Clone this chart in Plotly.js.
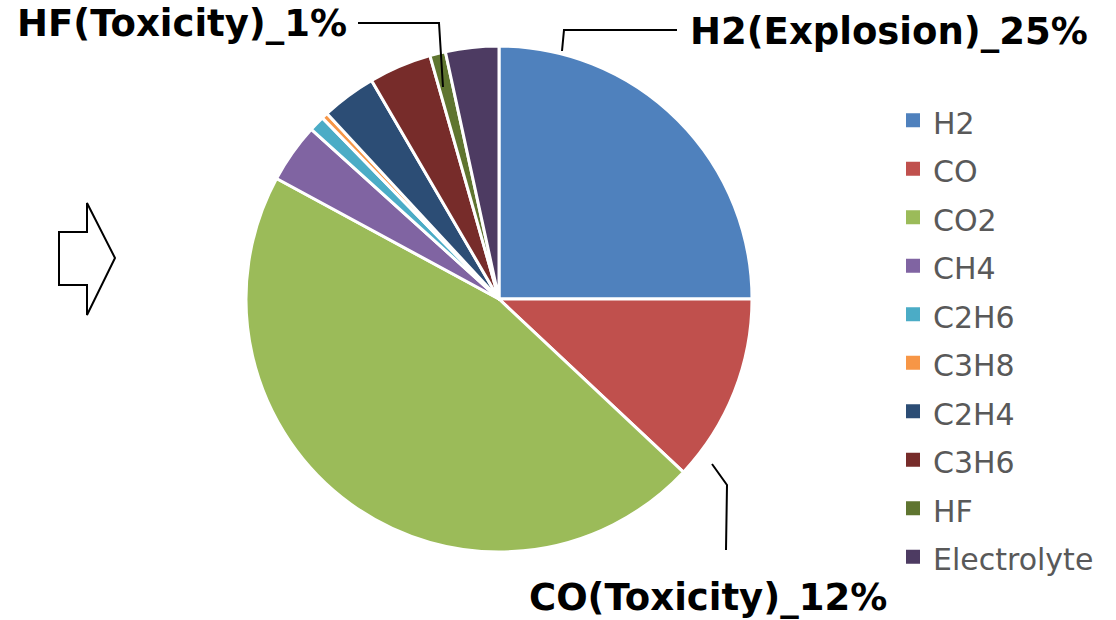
<!DOCTYPE html>
<html>
<head>
<meta charset="utf-8">
<script src="https://cdn.plot.ly/plotly-3.0.1.min.js"></script>
<style>
  html, body { margin: 0; padding: 0; background: #ffffff; }
  #chart { width: 1116px; height: 620px; }
</style>
</head>
<body>
<div id="chart"></div>
<script>
// Gas composition of the vented mixture (percent of total)
const gases   = ['H2', 'CO', 'CO2', 'CH4', 'C2H6', 'C3H8', 'C2H4', 'C3H6', 'HF', 'Electrolyte'];
const shares  = [25, 12, 45.9, 3.8, 1.0, 0.4, 3.5, 4.0, 1, 3.4];
const colors  = ['#4F81BD', '#C0504D', '#9BBB59', '#8064A2', '#4BACC6',
                 '#F79646', '#2C4D75', '#772C2A', '#5F7530', '#4D3B62'];

// Hazard callouts
const calloutGas    = ['H2', 'CO', 'HF'];
const calloutHazard = ['Explosion', 'Toxicity', 'Toxicity'];

const W = 1116, H = 620;
const fx = x => x / W;
const fy = y => 1 - y / H;
const path = pts => pts.map((p, i) => (i ? 'L' : 'M') + fx(p[0]) + ',' + fy(p[1])).join(' ');

function calloutText(gas) {
  const i = calloutGas.indexOf(gas);
  const v = shares[gases.indexOf(gas)];
  return gas + '(' + calloutHazard[i] + ')_' + Math.round(v) + '%';
}

const pie = {
  type: 'pie',
  labels: gases.map(g => '<span style="font-size:30px">' + g + '</span>'),
  values: shares,
  sort: false,
  direction: 'clockwise',
  rotation: 0,
  textinfo: 'none',
  hoverinfo: 'label+percent',
  marker: { colors: colors, line: { color: '#ffffff', width: 3 } },
  domain: { x: [fx(246), fx(752)], y: [fy(552), fy(46)] }
};

const labelFont = { family: 'DejaVu Sans', size: 37, color: '#000000', weight: 'bold' };

const annotations = [
  { text: '<b>' + calloutText('H2') + '</b>', x: fx(688), y: fy(31), xanchor: 'left', yanchor: 'middle' },
  { text: '<b>' + calloutText('HF') + '</b>', x: fx(349), y: fy(23), xanchor: 'right', yanchor: 'middle' },
  { text: '<b>' + calloutText('CO') + '</b>', x: fx(708), y: fy(597), xanchor: 'center', yanchor: 'middle' }
].map(a => Object.assign({ xref: 'paper', yref: 'paper', showarrow: false, font: labelFont }, a));

const leader = { color: '#000000', width: 2 };
const shapes = [
  // leader lines
  { type: 'path', path: path([[562, 51], [564, 30], [677, 30]]) },
  { type: 'path', path: path([[443, 87], [439, 23], [358, 23]]) },
  { type: 'path', path: path([[712, 464], [727, 485], [726, 550]]) },
  // block arrow on the left
  { type: 'path', path: path([[59, 232], [87, 232], [87, 203], [115, 258], [87, 315], [87, 285], [59, 285]]) + ' Z',
    fillcolor: '#ffffff', line: { color: '#000000', width: 2 } }
].map(s => Object.assign({ xref: 'paper', yref: 'paper', line: leader }, s));

const layout = {
  width: W,
  height: H,
  margin: { l: 0, r: 0, t: 0, b: 0, autoexpand: false },
  paper_bgcolor: '#ffffff',
  showlegend: true,
  legend: {
    x: fx(893), y: fy(91), xanchor: 'left', yanchor: 'top',
    font: { family: 'DejaVu Sans', size: 35, color: '#595959' },
    bgcolor: 'rgba(0,0,0,0)', borderwidth: 0
  },
  annotations: annotations,
  shapes: shapes
};

Plotly.newPlot('chart', [pie], layout, { displayModeBar: false, staticPlot: true }).then(gd => {
  // legend keys: outline the squares in their own colour so they read as solid blocks
  gd.querySelectorAll('.legend .legendpoints path').forEach(p => {
    const fill = p.style.fill || p.getAttribute('fill');
    if (fill) {
      p.style.stroke = fill;
      p.style.strokeWidth = '2px';
    }
  });
});
</script>
</body>
</html>
